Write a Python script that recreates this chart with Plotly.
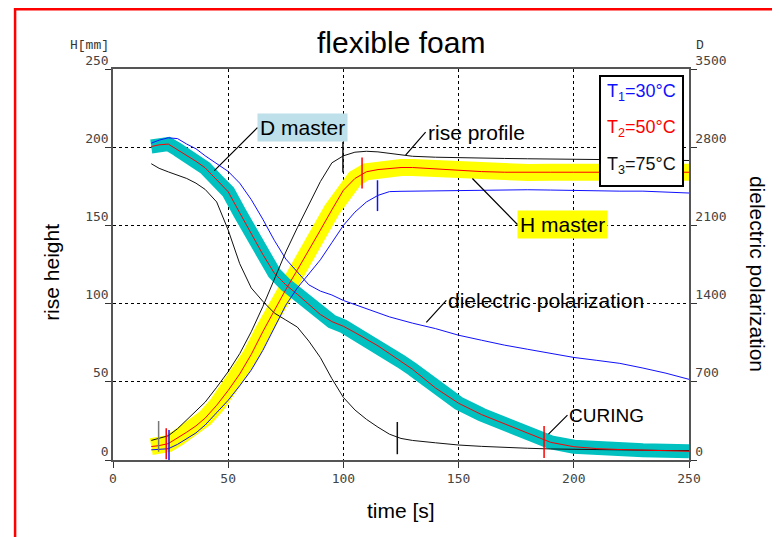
import plotly.graph_objects as go

# ---------------- data ----------------
time_s = [16.6, 20, 24, 28, 32, 36, 40, 45, 50, 55, 60, 65, 70, 75, 80, 85, 90, 95,
          100, 105, 110, 115, 120, 125, 130, 140, 150, 160, 170, 180, 190, 200,
          210, 220, 230, 240, 250]

# rise height H [mm]
rise_t1 = [6.5, 6.8, 7.2, 10, 13.5, 17.3, 22.4, 30, 38.2, 47.5, 57.5, 70, 84.5, 99, 110, 119,
           128, 139, 150, 158.5, 165, 169.2, 171.6, 171.8, 171.9, 172, 172.3, 172.6, 172.8,
           172.8, 172.6, 172.3, 172, 171.9, 171.9, 171.3, 170.7]
rise_t2 = [8.6, 9.2, 10.5, 14, 17.8, 21.8, 26.8, 35, 44.5, 55, 67.5, 82, 96, 109, 121.5, 134,
           147, 160, 172.5, 180, 184.3, 185.7, 186.4, 187, 187, 186, 185, 184.4, 184, 183.8,
           184, 184, 184, 184, 184, 184, 184]
rise_t3 = [12.5, 13.7, 15.5, 20, 25.5, 31, 37, 46.5, 56.5, 68, 82, 98, 115, 133, 148.5, 163,
           178, 190, 194.5, 196.8, 197.4, 197, 196, 195, 194.2, 193.6, 193.2, 193, 192.8,
           192.6, 192.5, 192.4, 192.2, 192, 191.8, 191.6, 191.5]

# dielectric polarization D
diel_t1 = [2836, 2863, 2884, 2877, 2828, 2786, 2723, 2649, 2583, 2478, 2331, 2156, 1967, 1799,
           1680, 1568, 1512, 1477, 1428, 1390, 1358, 1316, 1281, 1253, 1225, 1176, 1117, 1072,
           1028, 991, 955, 918, 892, 865, 823, 777, 722]
diel_t2 = [2806, 2821, 2828, 2779, 2723, 2674, 2615, 2506, 2401, 2212, 2023, 1841, 1673, 1568,
           1484, 1393, 1302, 1239, 1197, 1141, 1085, 1022, 952, 882, 812, 644, 508, 406, 322,
           235, 158, 119, 102, 94, 87, 83, 78]
diel_t3 = [2652, 2611, 2579, 2548, 2520, 2478, 2422, 2310, 2058, 1757, 1540, 1421, 1316, 1253,
           1190, 1064, 917, 728, 560, 448, 364, 294, 231, 193, 175, 154, 134, 122, 112, 105,
           99, 95, 92, 90, 87, 85, 84]

# master curves (coincide with T2)
h_master = rise_t2
d_master = diel_t2

# event markers (T1, T2, T3)
start_time = [24.3, 23.1, 19.8]
start_height = [9.3, 10.4, 15.1]
rise_end_time = [114.8, 108.1, 99.8]
rise_end_height = [169, 183.5, 193.6]
# curing markers (T2, T3) on D curves
curing_time = [187.1, 123.4]
curing_d = [161, 196]

x_ticks = [0, 50, 100, 150, 200, 250]
h_ticks = [0, 50, 100, 150, 200, 250]
d_ticks = [0, 700, 1400, 2100, 2800, 3500]
legend_labels = ["T<sub>1</sub>=30°C", "T<sub>2</sub>=50°C", "T<sub>3</sub>=75°C"]

# ---------------- styles ----------------
BLUE = "#1010FF"
RED = "#FF0000"
BLACK = "#111111"
temp_colors = [BLUE, RED, BLACK]
SANS = "Liberation Sans"
TICKFONT = dict(family="DejaVu Sans Mono", size=13, color="#444444")

fig = go.Figure()

# bands
fig.add_trace(go.Scatter(x=time_s, y=h_master, mode="lines", yaxis="y",
                         line=dict(color="#FFFF00", width=17), hoverinfo="skip"))
fig.add_trace(go.Scatter(x=time_s, y=d_master, mode="lines", yaxis="y2",
                         line=dict(color="#00C0C0", width=14), hoverinfo="skip"))

# dielectric curves
for series, c in zip([diel_t1, diel_t3, diel_t2], [BLUE, BLACK, RED]):
    fig.add_trace(go.Scatter(x=time_s, y=series, mode="lines", yaxis="y2",
                             line=dict(color=c, width=1)))
fig.add_trace(go.Scatter(x=curing_time, y=curing_d, mode="markers", yaxis="y2",
                         marker=dict(symbol="line-ns", size=23,
                                     line=dict(color=[RED, BLACK], width=1.5))))

# rise curves
for series, c in zip([rise_t1, rise_t3, rise_t2], [BLUE, BLACK, RED]):
    fig.add_trace(go.Scatter(x=time_s, y=series, mode="lines", yaxis="y3",
                             line=dict(color=c, width=1)))
fig.add_trace(go.Scatter(x=start_time, y=start_height, mode="markers", yaxis="y3",
                         marker=dict(symbol="line-ns", size=22,
                                     line=dict(color=[BLUE, RED, "#777777"], width=1.5))))
fig.add_trace(go.Scatter(x=rise_end_time, y=rise_end_height, mode="markers", yaxis="y3",
                         marker=dict(symbol="line-ns", size=22,
                                     line=dict(color=temp_colors, width=1.5))))

axis_common = dict(showline=True, linecolor="#555555", linewidth=1.5, ticks="outside",
                   ticklen=6, tickcolor="#333333", tickfont=TICKFONT, zeroline=False)

fig.update_layout(
    width=780, height=537,
    margin=dict(l=105, r=99, t=61, b=85, pad=0, autoexpand=False),
    paper_bgcolor="white", plot_bgcolor="white",
    showlegend=False, hovermode=False,
    xaxis=dict(range=[0, 250], tickvals=x_ticks, showgrid=True, gridcolor="black",
               griddash="3px,3px", gridwidth=1, mirror=True, layer="above traces",
               **axis_common),
    yaxis=dict(range=[0, 250], tickvals=h_ticks, showgrid=True, gridcolor="black",
               griddash="3px,3px", gridwidth=1, mirror=False, layer="above traces",
               ticklabelshift=-9, ticklabelstandoff=-6, **axis_common),
    yaxis2=dict(range=[0, 3500], tickvals=d_ticks, overlaying="y", side="right",
                showgrid=False, ticklabelshift=-9, ticklabelstandoff=-4, **axis_common),
    yaxis3=dict(range=[0, 250], overlaying="y", visible=False),
)

ann = []
pap = dict(xref="paper", yref="paper", showarrow=False, xanchor="center", yanchor="middle")
# title and axis titles
ann.append(dict(text="flexible foam", x=0.5, y=1.069,
                font=dict(family=SANS, size=30, color="black"), **pap))
ann.append(dict(text="rise height", x=-0.106, y=0.481, textangle=-90,
                font=dict(family=SANS, size=21, color="black"), **pap))
ann.append(dict(text="dielectric polarization", x=1.118, y=0.476, textangle=90,
                font=dict(family=SANS, size=21, color="black"), **pap))
ann.append(dict(text="time [s]", x=0.5, y=-0.130,
                font=dict(family=SANS, size=21, color="black"), **pap))
ann.append(dict(text="H[mm]", x=-0.040, y=1.059,
                font=dict(family="Liberation Mono", size=13, color="#333333"), **pap))
ann.append(dict(text="D", x=1.019, y=1.059,
                font=dict(family="Liberation Mono", size=13, color="#333333"), **pap))

# callouts
lab = dict(xref="x", yref="y", showarrow=True, arrowhead=0, arrowwidth=1.2,
           arrowcolor="black", xanchor="left", yanchor="middle")
ann.append(dict(text="D master", x=44, y=185, ax=43, ay=-43, bgcolor="#BEE0EA", borderpad=2,
                font=dict(family=SANS, size=21, color="black"), **lab))
ann.append(dict(text="rise profile", x=127, y=195, ax=20, ay=-23,
                font=dict(family=SANS, size=21, color="black"), **lab))
ann.append(dict(text="H master", x=156, y=180, ax=45, ay=46, bgcolor="#FFFF00", borderpad=2,
                font=dict(family=SANS, size=21, color="black"), **lab))
ann.append(dict(text="dielectric polarization", x=136, y=88, ax=20, ay=-22,
                font=dict(family=SANS, size=21, color="black"), **lab))
ann.append(dict(text="CURING", x=189, y=16.5, ax=19, ay=-19,
                font=dict(family=SANS, size=19, color="black"), **lab))

# legend texts
for lbl, c, yy in zip(legend_labels, temp_colors, [0.941, 0.849, 0.752]):
    ann.append(dict(text=lbl, xref="paper", yref="paper", x=0.854, y=yy, xanchor="left",
                    yanchor="middle", showarrow=False, font=dict(family=SANS, size=18, color=c)))

fig.update_layout(annotations=ann)

# legend box and outer red frame
fig.add_shape(type="rect", xref="paper", yref="paper", x0=0.8455, x1=0.9896, y0=0.701, y1=0.982,
              line=dict(color="black", width=2), fillcolor="white", layer="above")
fig.add_shape(type="rect", xref="paper", yref="paper", x0=-0.170, x1=1.6, y0=-0.6, y1=1.153,
              line=dict(color="#FF0000", width=2.5), fillcolor="rgba(0,0,0,0)", layer="above")

fig.write_html("out.html")
